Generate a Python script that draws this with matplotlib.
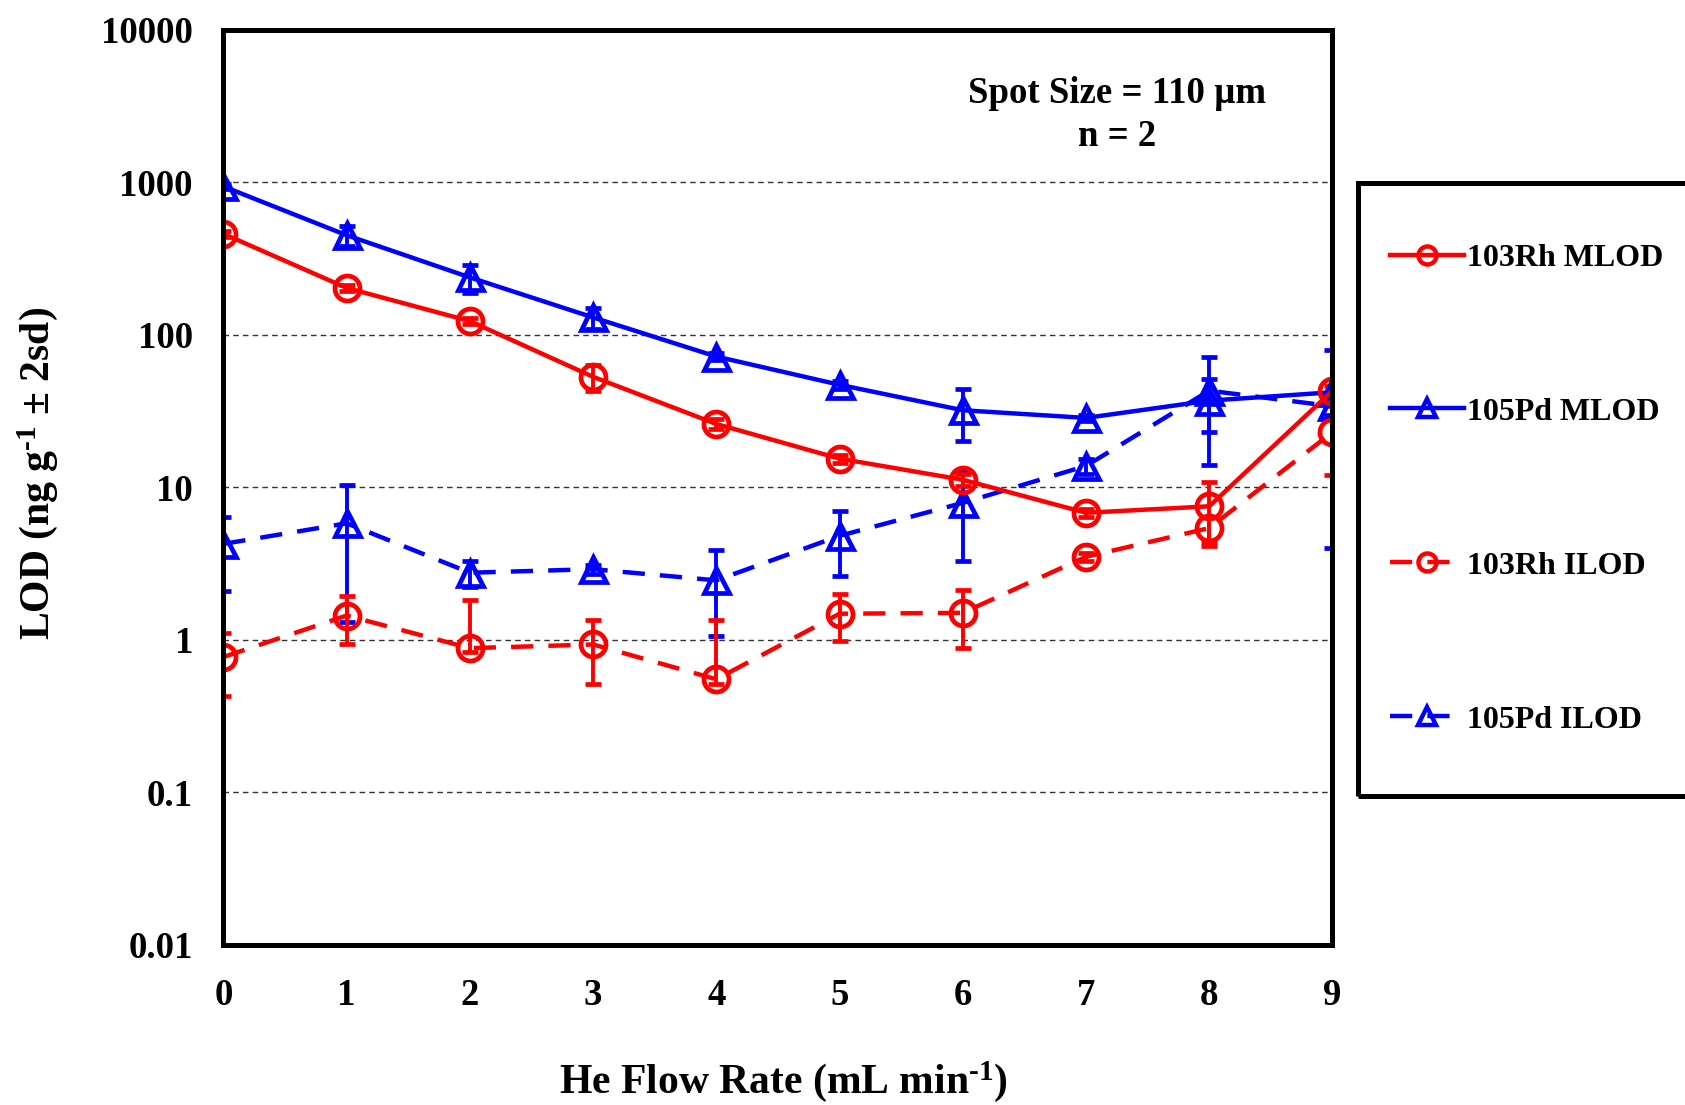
import matplotlib
matplotlib.use('Agg')
import matplotlib.pyplot as plt
from matplotlib.patches import Rectangle
from matplotlib.lines import Line2D

plt.rcParams['font.family'] = ['Liberation Serif', 'DejaVu Serif']
plt.rcParams['font.weight'] = 'bold'
plt.rcParams['mathtext.fontset'] = 'custom'
plt.rcParams['mathtext.rm'] = 'Liberation Serif:bold'
plt.rcParams['mathtext.bf'] = 'Liberation Serif:bold'
plt.rcParams['mathtext.default'] = 'rm'

# He flow rate (mL/min)
przeplyw = [0, 1, 2, 3, 4, 5, 6, 7, 8, 9]

# 103Rh method LOD
rh_mlod = [460, 203, 123, 53, 26, 15.4, 11.2, 6.8, 7.5, 43]
rh_mlod_err = [20, 10, 6, 10, 2, 1, 1, 0.4, 3.4, 3]

# 105Pd method LOD
pd_mlod = [940, 450, 238, 130, 72, 47, 32, 28.5, 37, 42]
pd_mlod_err = [40, 66, 50, 21, 4, 3, 12, 1.5, 14, 38]

# 103Rh instrument LOD (dolny / gorny blad)
rh_ilod = [0.77, 1.44, 0.88, 0.93, 0.55, 1.48, 1.5, 3.5, 5.4, 23]
rh_ilod_lo = [0.34, 0.5, 0.05, 0.42, 0.04, 0.5, 0.62, 0.2, 1.0, 11]
rh_ilod_hi = [0.34, 0.5, 0.93, 0.42, 0.8, 0.5, 0.62, 0.2, 1.0, 11]

# 105Pd instrument LOD
pd_ilod = [4.25, 5.8, 2.75, 2.9, 2.45, 4.8, 7.9, 13.8, 43, 34]
pd_ilod_err = [2.15, 4.5, 0.55, 0.2, 1.4, 2.2, 4.6, 1.5, 29, 4]

CZERWONY = '#FF0000'
NIEBIESKI = '#0000FF'
KRESKI = (0, (5.0, 3.4))

fig = plt.figure(figsize=(16.85, 11.05), dpi=100)
ax = fig.add_axes([0.1326, 0.1452, 0.6582, 0.8277])

styl = dict(lw=3.2, ms=18, mew=3.4, mfc='none', elinewidth=2.8, capsize=6, capthick=3.2)

ax.errorbar(przeplyw, pd_ilod, yerr=pd_ilod_err, color=NIEBIESKI, marker='^',
            ls=KRESKI, **styl)
ax.errorbar(przeplyw, rh_ilod, yerr=[rh_ilod_lo, rh_ilod_hi], color=CZERWONY, marker='o',
            ls=KRESKI, **styl)
ax.errorbar(przeplyw, pd_mlod, yerr=pd_mlod_err, color=NIEBIESKI, marker='^',
            ls='-', **styl)
ax.errorbar(przeplyw, rh_mlod, yerr=rh_mlod_err, color=CZERWONY, marker='o',
            ls='-', **styl)

ax.set_yscale('log')
ax.set_ylim(0.01, 10000)
ax.set_xlim(0, 9)
ax.set_xticks(przeplyw)
ax.set_yticks([0.01, 0.1, 1, 10, 100, 1000, 10000])
ax.set_yticklabels(['0.01', '0.1', '1', '10', '100', '1000', '10000'])
ax.minorticks_off()
ax.tick_params(axis='both', length=0, labelsize=26.5, pad=22)
ax.tick_params(axis='x', pad=24)

for y in [0.1, 1, 10, 100, 1000]:
    ax.axhline(y, color='#333333', lw=1.0, ls=(0, (4, 3)), zorder=0)

for s in ax.spines.values():
    s.set_linewidth(3.6)

ax.set_xlabel(r'He Flow Rate (mL min$^{\text{-1}}$)', fontsize=30, fontweight='bold', va='center')
ax.xaxis.set_label_coords(0.505, -0.150)
ax.set_ylabel(r'LOD (ng g$^{\text{-1}}$ ± 2sd)', fontsize=30, fontweight='bold', va='center')
ax.yaxis.set_label_coords(-0.168, 0.515)

ax.text(0.806, 0.907, 'Spot Size = 110 µm\nn = 2', transform=ax.transAxes,
        ha='center', va='center', fontsize=26.5, fontweight='bold', linespacing=1.3)

# ramka legendy wychodzi poza prawa krawedz
fig.patches.append(Rectangle((0.806, 0.2796), 0.3, 0.5548, transform=fig.transFigure,
                             fill=False, ec='black', lw=3.6))

uchwyty = [
    Line2D([], [], color=CZERWONY, marker='o', ls='-', lw=3.2, ms=13, mew=3.2, mfc='none'),
    Line2D([], [], color=NIEBIESKI, marker='^', ls='-', lw=3.2, ms=13, mew=3.2, mfc='none'),
    Line2D([], [], color=CZERWONY, marker='o', ls=KRESKI, lw=3.2, ms=13, mew=3.2, mfc='none'),
    Line2D([], [], color=NIEBIESKI, marker='^', ls=KRESKI, lw=3.2, ms=13, mew=3.2, mfc='none'),
]
etykiety = ['103Rh MLOD', '105Pd MLOD', '103Rh ILOD', '105Pd ILOD']
fig.legend(uchwyty, etykiety, loc='center left',
           bbox_to_anchor=(0.825, 0.5575), frameon=False, fontsize=23,
           labelspacing=3.9, handlelength=2.3, handletextpad=0.1,
           borderpad=0, borderaxespad=0)

plt.savefig('out.png', dpi=100)
